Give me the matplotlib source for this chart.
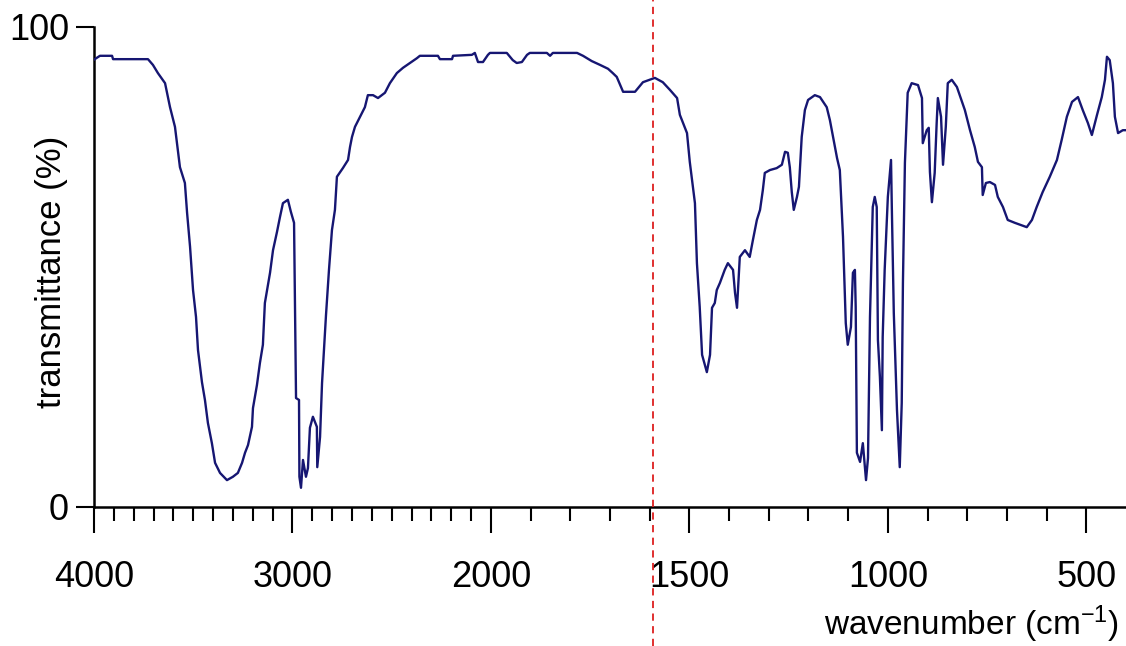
import numpy as np
import matplotlib
matplotlib.use('Agg')
import matplotlib.pyplot as plt

plt.rcParams['font.family'] = ['Liberation Sans', 'DejaVu Sans']
plt.rcParams['mathtext.fontset'] = 'custom'
plt.rcParams['mathtext.rm'] = 'Liberation Sans'
plt.rcParams['mathtext.it'] = 'Liberation Sans:italic'

# IR spectrum (wavenumber in cm-1, transmittance in %)
wavenumber = [
    4000, 3970, 3909, 3904, 3728, 3703, 3678, 3642, 3617, 3592,
    3567, 3542, 3531, 3516, 3501, 3486, 3476, 3456, 3441, 3426,
    3406, 3390, 3365, 3330, 3300, 3275, 3254, 3239, 3224, 3204,
    3199, 3179, 3164, 3149, 3139, 3113, 3098, 3078, 3063, 3048,
    3023, 3008, 2992, 2982, 2967, 2965, 2957, 2947, 2932, 2922,
    2912, 2897, 2877, 2875, 2861, 2851, 2831, 2816, 2801, 2786,
    2776, 2746, 2720, 2710, 2700, 2685, 2650, 2635, 2620, 2594,
    2569, 2534, 2509, 2474, 2443, 2408, 2373, 2358, 2267, 2257,
    2196, 2191, 2096, 2081, 2065, 2040, 2015, 2005,
    1960, 1945, 1935, 1922, 1909, 1902, 1859, 1851, 1844, 1783,
    1768, 1746, 1725, 1705, 1693, 1683, 1667, 1637, 1617, 1587,
    1567, 1549, 1531, 1524, 1506, 1499, 1486, 1481, 1474, 1468,
    1456, 1448, 1443, 1436, 1431, 1423, 1411, 1403, 1390, 1385,
    1380, 1373, 1360, 1348, 1340, 1330, 1322, 1315, 1310, 1297,
    1280, 1267, 1259, 1252, 1247, 1242, 1237, 1229, 1224, 1217,
    1209, 1201, 1184, 1171, 1154, 1146, 1139, 1128, 1121, 1113,
    1106, 1101, 1093, 1088, 1083, 1081, 1078, 1070, 1063, 1055,
    1050, 1045, 1038, 1033, 1028, 1025, 1020, 1015, 1013, 1008,
    1000, 992, 990, 985, 977, 970, 965, 962, 957, 950,
    940, 924, 914, 912, 902, 897, 894, 889, 882, 877,
    874, 866, 861, 854, 849, 839, 826, 819, 806, 793,
    781, 773, 763, 761, 753, 743, 730, 723, 710, 698,
    680, 650, 637, 625, 610, 592, 574, 562, 549, 536,
    521, 509, 496, 486, 473, 461, 453, 448, 441, 433,
    428, 420, 408, 400,
]
transmittance = [
    93.2, 94.0, 94.0, 93.3, 93.3, 92.1, 90.4, 88.3, 83.3, 79.2,
    70.8, 67.5, 61.3, 54.2, 45.2, 39.6, 32.7, 26.0, 22.3, 17.5,
    13.3, 9.2, 7.1, 5.6, 6.3, 7.1, 9.2, 11.3, 12.9, 16.7,
    20.6, 25.4, 30.0, 33.8, 42.5, 48.8, 53.5, 57.3, 60.4, 63.3,
    64.0, 61.5, 59.2, 22.7, 22.3, 6.3, 4.0, 9.8, 6.3, 8.1,
    16.5, 18.8, 16.7, 8.3, 14.6, 25.8, 40.0, 49.4, 57.7, 61.9,
    68.8, 70.6, 72.3, 75.0, 77.1, 79.2, 82.1, 83.3, 85.8, 85.8,
    85.2, 86.3, 88.3, 90.4, 91.5, 92.5, 93.5, 94.0, 94.0, 93.3,
    93.3, 94.0, 94.2, 94.6, 92.7, 92.7, 94.2, 94.6,
    94.6, 93.1, 92.5, 92.7, 94.2, 94.6, 94.6, 94.0, 94.6, 94.6,
    94.0, 92.9, 92.1, 91.3, 90.4, 89.6, 86.5, 86.5, 88.5, 89.4,
    88.5, 86.9, 85.2, 81.7, 77.9, 71.9, 63.3, 50.8, 41.7, 31.7,
    28.1, 31.7, 41.5, 42.5, 45.2, 46.7, 49.4, 50.8, 49.4, 44.6,
    41.5, 52.1, 53.5, 52.1, 55.6, 59.8, 61.9, 66.0, 69.6, 70.2,
    70.6, 71.3, 74.0, 73.8, 70.8, 65.6, 61.9, 64.6, 66.7, 77.1,
    82.7, 84.8, 85.8, 85.4, 83.3, 80.6, 77.5, 72.7, 70.2, 56.3,
    38.3, 33.8, 37.5, 48.8, 49.4, 41.7, 11.3, 9.4, 13.3, 5.6,
    10.2, 39.6, 62.5, 64.6, 62.5, 34.8, 27.1, 16.0, 35.4, 49.4,
    64.6, 72.3, 62.5, 40.4, 20.2, 8.3, 21.7, 46.7, 71.7, 86.3,
    88.3, 87.9, 85.2, 75.8, 78.5, 79.0, 69.8, 63.5, 69.6, 80.0,
    85.2, 81.3, 71.3, 79.2, 88.3, 89.0, 87.5, 85.8, 82.7, 78.5,
    75.0, 71.9, 70.8, 65.0, 67.5, 67.7, 67.1, 64.6, 62.5, 59.8,
    59.2, 58.3, 59.8, 62.5, 65.6, 68.8, 72.3, 76.5, 81.3, 84.4,
    85.4, 82.7, 80.0, 77.5, 81.7, 85.4, 89.0, 93.8, 93.1, 88.3,
    81.3, 77.9, 78.5, 78.5,
]
major_ticks = [4000, 3000, 2000, 1500, 1000, 500]
cursor_wn = 1592


# scale below 2000 cm-1 is stretched twice
def fwd(x):
    x = np.asarray(x, dtype=float)
    return np.where(x >= 2000, x, 2 * x - 2000)


def inv(y):
    y = np.asarray(y, dtype=float)
    return np.where(y >= 2000, y, (y + 2000) / 2)


fig = plt.figure(figsize=(11.26, 6.46), dpi=100)
ax = fig.add_axes([94 / 1126, 1 - 507 / 646, 1 - 94 / 1126, 480 / 646])

ax.plot(wavenumber, transmittance, color='#161672', linewidth=1.7, zorder=3)

ax.set_xscale('function', functions=(fwd, inv))
ax.set_xlim(4000, 400)
ax.set_ylim(0, 100)

ax.set_xticks(major_ticks)
ax.set_xticklabels([str(t) for t in major_ticks])
minor = [w for w in range(500, 4000, 100) if w not in major_ticks]
ax.set_xticks(minor, minor=True)
ax.set_yticks([0, 100])
ax.set_yticklabels(['0', '100'])

for s in ['top', 'right']:
    ax.spines[s].set_visible(False)
for s in ['left', 'bottom']:
    ax.spines[s].set_linewidth(1.8)

ax.tick_params(axis='x', which='major', direction='out', length=19, width=1.5,
               labelsize=26, pad=19)
ax.tick_params(axis='x', which='minor', direction='out', length=10, width=1.5)
ax.tick_params(axis='y', which='major', direction='out', length=13, width=1.5,
               labelsize=26, pad=5)

# red dashed cursor running over the whole figure height
ax.axvline(cursor_wn, ymin=-0.29, ymax=1.06, clip_on=False, color='#dd1f1f',
           linestyle=(0, (4, 3)), linewidth=1.3, zorder=4)

fig.text(52 / 1126, 1 - 272 / 646, 'transmittance (%)', rotation=90,
         ha='center', va='center', fontsize=25)
fig.text(1119 / 1126, 1 - 624 / 646, 'wavenumber (cm$^{-1}$)',
         ha='right', va='center', fontsize=24)

fig.savefig('out.png', dpi=100)
